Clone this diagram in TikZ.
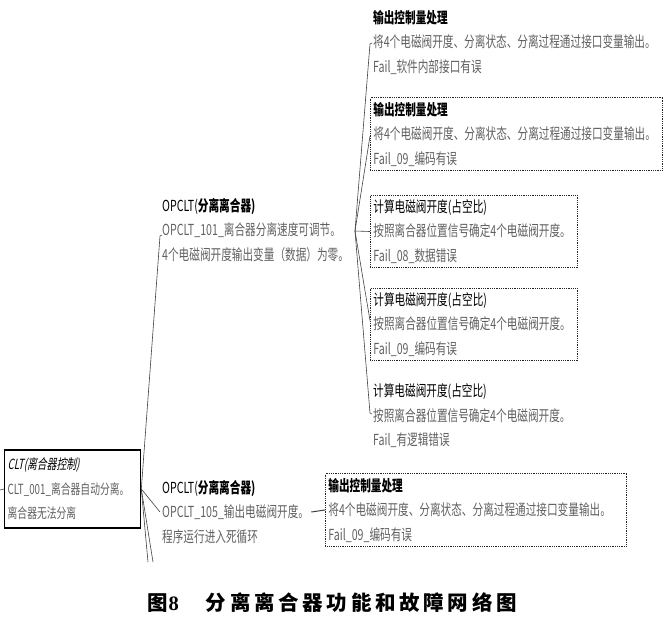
\documentclass[tikz,border=0pt]{standalone}
\usepackage{fontspec}
\newfontfamily\cn[FakeStretch=0.7,ItalicFont={Noto Sans CJK SC},ItalicFeatures={FakeSlant=0.2}]{Noto Sans CJK SC}
\newfontfamily\capfont[LetterSpace=18]{Noto Sans CJK SC}
\newfontfamily\capnum{Liberation Serif}
\newcommand{\ttl}[1]{\textcolor{black}{\bfseries #1}}
\tikzset{
  x=1pt,y=-1pt,
  item/.style={anchor=west,align=left,inner xsep=3pt,inner ysep=4pt,
    text=black!62,font=\cn\fontsize{15.2}{24.5}\selectfont},
  dbox/.style={draw=black!85,densely dotted,line width=0.8pt},
  rootbox/.style={draw=black,line width=1.3pt},
  conn/.style={draw=black!75,line width=0.6pt},
}
\begin{document}
\begin{tikzpicture}
\useasboundingbox (0,0) rectangle (665,622);
% root
\node[item,rootbox,text width=130,minimum height=78,font=\cn\fontsize{14}{24.5}\selectfont] (root) at (4,489)
  {\textcolor{black}{\itshape CLT(离合器控制)}\\CLT\_001\_离合器自动分离。\\离合器无法分离};
% level 1
\node[item,inner xsep=2pt] (n1) at (160,230)
  {\textcolor{black}{OPCLT(\bfseries 分离离合器)}\\OPCLT\_101\_离合器分离速度可调节。\\4个电磁阀开度输出变量（数据）为零。};
\node[item,inner xsep=2pt] (n2) at (160,512)
  {\textcolor{black}{OPCLT(\bfseries 分离离合器)}\\OPCLT\_105\_输出电磁阀开度。\\程序运行进入死循环};
% level 2
\node[item,text width=286] (c1) at (370,42)
  {\ttl{输出控制量处理}\\将4个电磁阀开度、分离状态、分离过程通过接口变量输出。\\Fail\_软件内部接口有误};
\node[item,dbox,text width=286] (c2) at (370,134)
  {\ttl{输出控制量处理}\\将4个电磁阀开度、分离状态、分离过程通过接口变量输出。\\Fail\_09\_编码有误};
\node[item,dbox,text width=201] (c3) at (370,231.5)
  {\textcolor{black}{计算电磁阀开度(占空比)}\\按照离合器位置信号确定4个电磁阀开度。\\Fail\_08\_数据错误};
\node[item,dbox,text width=201] (c4) at (370,324.5)
  {\textcolor{black}{计算电磁阀开度(占空比)}\\按照离合器位置信号确定4个电磁阀开度。\\Fail\_09\_编码有误};
\node[item,text width=201] (c5) at (370,416)
  {\textcolor{black}{计算电磁阀开度(占空比)}\\按照离合器位置信号确定4个电磁阀开度。\\Fail\_有逻辑错误};
\node[item,dbox,text width=295] (c6) at (325,510)
  {\ttl{输出控制量处理}\\将4个电磁阀开度、分离状态、分离过程通过接口变量输出。\\Fail\_09\_编码有误};
% connectors
\coordinate (in) at (0,490);
\coordinate (f1) at (355,231);
\coordinate (d1) at (148,562);
\coordinate (d2) at (153,562);
\draw[conn] (in) -- (root.west);
\draw[conn] (root.east) -- ([yshift=-6pt]n1.west) -- ++(2,-1);
\draw[conn] (root.east) -- (n2.west);
\draw[conn] (root.east) -- (d1);
\draw[conn] (root.east) -- (d2);
\draw[conn] (f1) -- ([yshift=-2pt]c1.west) -- ++(2,-1);
\draw[conn] (f1) -- ([yshift=-2pt]c2.west);
\draw[conn] (f1) -- (c3.west);
\draw[conn] (f1) -- ([yshift=4pt]c4.west);
\draw[conn] (f1) -- ([yshift=3pt]c5.west) -- ++(2,1);
\draw[conn,line width=1pt] (n2.east) -- (c6.west);
% caption
\node[anchor=west,inner sep=0pt] (cap) at (147,603)
  {\fontsize{20.5}{24}\selectfont\bfseries{\capfont 图}\hspace{1pt}{\capnum 8}\hspace{27pt}{\capfont 分离离合器功能和故障网络图}};
\end{tikzpicture}
\end{document}
